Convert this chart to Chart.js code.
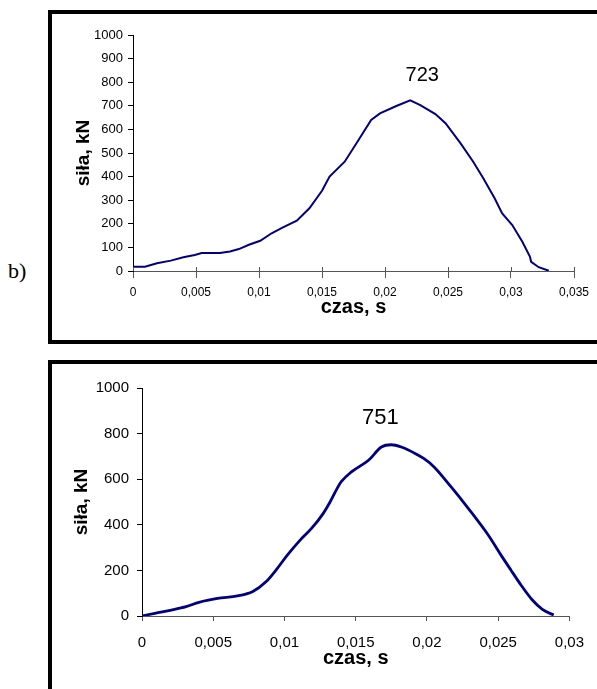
<!DOCTYPE html>
<html>
<head>
<meta charset="utf-8">
<script src="https://cdn.jsdelivr.net/npm/chart.js@4.4.0/dist/chart.umd.min.js"></script>
<style>
body { margin: 0; width: 597px; height: 689px; overflow: hidden; background: #fff; position: relative; }
.frame { position: absolute; left: 48px; width: 600px; border: 4px solid #000; box-sizing: border-box; }
#frameA { top: 10px; height: 334px; }
#frameB { top: 360px; height: 400px; }
#tag { position: absolute; left: 8px; top: 260px; font: 22px/22px "Liberation Serif", serif; }
canvas { position: absolute; left: 0; }
#chartA { top: 0; }
#chartB { top: 345px; }
</style>
</head>
<body>
<div class="frame" id="frameA"></div>
<div class="frame" id="frameB"></div>
<div id="tag">b)</div>
<canvas id="chartA" width="597" height="345"></canvas>
<canvas id="chartB" width="597" height="344"></canvas>
<script>
// chart b) - top
const timeA = [0, 0.00095, 0.0019, 0.003, 0.004, 0.0049, 0.00545, 0.0069, 0.0077, 0.0084, 0.0092, 0.0101,
    0.011, 0.0119, 0.013, 0.014, 0.015, 0.0156, 0.0168, 0.0179, 0.0189, 0.0196, 0.0209, 0.022, 0.0228,
    0.024, 0.0248, 0.026, 0.027, 0.0278, 0.0287, 0.0293, 0.0301, 0.0309, 0.0315, 0.0316, 0.0322, 0.033];
const forceA = [18, 18, 33, 44, 58, 68, 76, 76, 83, 93, 111, 128,
    160, 185, 213, 266, 340, 400, 463, 555, 640, 668, 699, 723, 703,
    665, 626, 541, 463, 393, 308, 244, 195, 124, 61, 39, 16, 1];
const xTicksA = [0, 0.005, 0.01, 0.015, 0.02, 0.025, 0.03, 0.035];
const xLabelsA = ["0", "0,005", "0,01", "0,015", "0,02", "0,025", "0,03", "0,035"];
const yTicksA = [0, 100, 200, 300, 400, 500, 600, 700, 800, 900, 1000];

// bottom chart
const timeB = [0, 0.0009, 0.00206, 0.0031, 0.004, 0.0053, 0.0067, 0.00775, 0.0087, 0.0095, 0.0102, 0.0111,
    0.0119, 0.0127, 0.0132, 0.0137, 0.014, 0.0147, 0.0159, 0.0168, 0.0175, 0.0182, 0.0192, 0.0198,
    0.0205, 0.0217, 0.0229, 0.0243, 0.0252, 0.0259, 0.0266, 0.0274, 0.0281, 0.0289];
const forceB = [0, 12, 26, 41, 60, 77, 88, 106, 150, 209, 267, 333,
    384, 448, 500, 560, 590, 632, 683, 741, 751, 741, 712, 690,
    654, 566, 472, 355, 267, 201, 136, 70, 29, 4];
const xTicksB = [0, 0.005, 0.01, 0.015, 0.02, 0.025, 0.03];
const xLabelsB = ["0", "0,005", "0,01", "0,015", "0,02", "0,025", "0,03"];
const yTicksB = [0, 200, 400, 600, 800, 1000];

const FONT = '"Liberation Sans", Arial, sans-serif';

const innerTicks = {
    id: "innerTicks",
    afterDatasetsDraw(chart, args, opts) {
        if (!opts.length) return;
        const { ctx, chartArea } = chart;
        const x = chart.scales.x;
        ctx.save();
        ctx.strokeStyle = opts.color;
        ctx.lineWidth = 1;
        x.ticks.forEach(t => {
            const px = Math.round(x.getPixelForValue(t.value)) + 0.5;
            ctx.beginPath();
            ctx.moveTo(px, chartArea.bottom);
            ctx.lineTo(px, chartArea.bottom - opts.length);
            ctx.stroke();
        });
        ctx.restore();
    }
};

const peakLabel = {
    id: "peakLabel",
    afterDatasetsDraw(chart, args, opts) {
        const data = chart.data.datasets[0].data;
        let k = 0;
        data.forEach((p, i) => { if (p.y > data[k].y) k = i; });
        const pt = chart.getDatasetMeta(0).data[k];
        const ctx = chart.ctx;
        ctx.save();
        ctx.fillStyle = "#000";
        ctx.font = opts.size + "px " + FONT;
        ctx.textAlign = "center";
        ctx.textBaseline = "middle";
        ctx.fillText(String(data[k].y), pt.x + opts.dx, pt.y + opts.dy);
        ctx.restore();
    }
};

function makeChart(id, s) {
    new Chart(document.getElementById(id), {
        type: "line",
        data: {
            datasets: [{
                data: s.time.map((t, i) => ({ x: t, y: s.force[i] })),
                borderColor: "#000080",
                borderWidth: s.lineWidth,
                pointRadius: 0,
                fill: false,
                tension: s.tension,
                cubicInterpolationMode: s.mode
            }]
        },
        plugins: [innerTicks, peakLabel],
        options: {
            responsive: false,
            animation: false,
            layout: { padding: s.padding },
            plugins: {
                legend: { display: false },
                tooltip: { enabled: false },
                innerTicks: s.inner,
                peakLabel: s.peak
            },
            scales: {
                x: {
                    type: "linear",
                    min: 0,
                    max: s.xTicks[s.xTicks.length - 1],
                    afterBuildTicks: sc => { sc.ticks = s.xTicks.map(v => ({ value: v })); },
                    afterFit: sc => { sc.height = s.xHeight; },
                    border: { color: "#555", width: 1 },
                    grid: { drawOnChartArea: false, tickLength: s.xTickLen, color: "#555" },
                    ticks: {
                        autoSkip: false, maxRotation: 0, color: "#000", padding: s.xTickPad,
                        font: { family: FONT, size: s.xFont },
                        callback: (v, i) => s.xLabels[i]
                    },
                    title: {
                        display: true, text: "czas, s", color: "#000",
                        font: { family: FONT, size: 20, weight: "bold" },
                        padding: { top: 0, bottom: s.xTitlePad }
                    }
                },
                y: {
                    min: 0,
                    max: 1000,
                    afterBuildTicks: sc => { sc.ticks = s.yTicks.map(v => ({ value: v })); },
                    afterFit: sc => { sc.width = s.yWidth; },
                    border: { color: "#000", width: 1 },
                    grid: { drawOnChartArea: false, tickLength: 5, color: "#000" },
                    ticks: {
                        color: "#000", padding: s.yTickPad,
                        font: { family: FONT, size: s.yFont },
                        callback: v => String(v)
                    },
                    title: {
                        display: true, text: "siła, kN", color: "#000",
                        font: { family: FONT, size: 19, weight: "bold" },
                        padding: { top: s.yTitlePad, bottom: 0 }
                    }
                }
            }
        }
    });
}

makeChart("chartA", {
    time: timeA, force: forceA, xTicks: xTicksA, xLabels: xLabelsA, yTicks: yTicksA,
    lineWidth: 2, tension: 0, mode: "default",
    padding: { left: 0, right: 23, top: 35, bottom: 0 },
    xHeight: 74, xTickLen: 7, xTickPad: 7, xFont: 12, xTitlePad: 26,
    yWidth: 133, yTickPad: 5, yFont: 13, yTitlePad: 72,
    inner: { length: 4, color: "#555" },
    peak: { size: 20, dx: 12, dy: -25 }
});

makeChart("chartB", {
    time: timeB, force: forceB, xTicks: xTicksB, xLabels: xLabelsB, yTicks: yTicksB,
    lineWidth: 2.8, tension: 0.4, mode: "monotone",
    padding: { left: 0, right: 25, top: 43, bottom: 0 },
    xHeight: 73, xTickLen: 5, xTickPad: 13, xFont: 15, xTitlePad: 19,
    yWidth: 142, yTickPad: 8, yFont: 15, yTitlePad: 70,
    inner: {},
    peak: { size: 22, dx: -11, dy: -27 }
});
</script>
</body>
</html>
